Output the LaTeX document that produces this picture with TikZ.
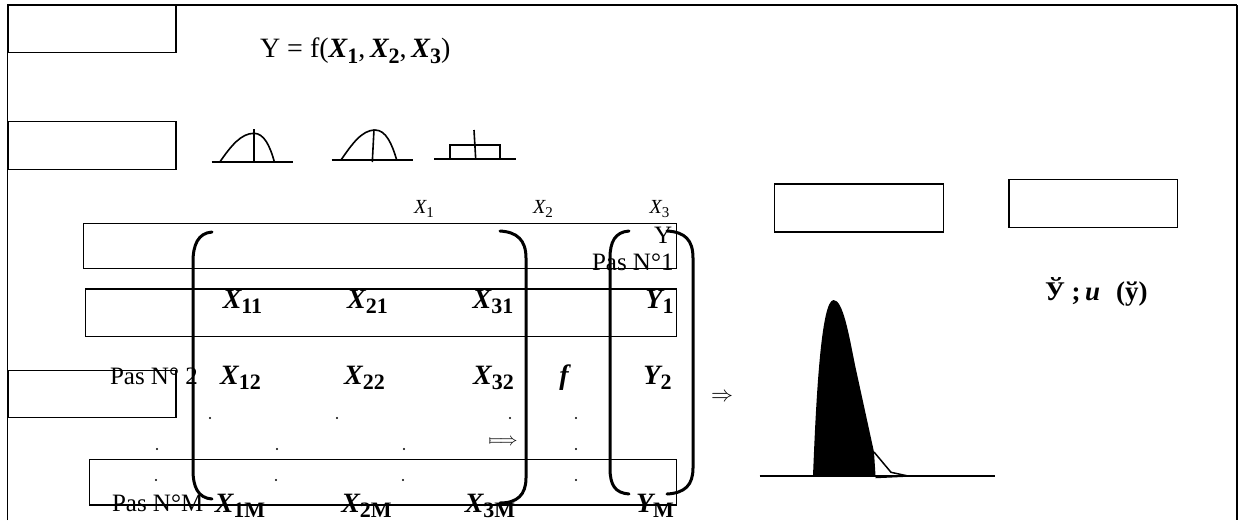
\documentclass[tikz,border=0pt]{standalone}
\usepackage{graphicx}
\usepackage{fontspec}
\setmainfont{Liberation Serif}
\newcommand\ent[2]{{\fontsize{28}{28}\selectfont\bfseries\itshape #1}\raisebox{-5pt}{\fontsize{22}{22}\selectfont\bfseries #2}}
\newcommand\hd[2]{{\fontsize{20}{20}\selectfont\itshape #1}\raisebox{-4pt}{\fontsize{15}{15}\selectfont #2}}
\newcommand\fx[1]{{\bfseries\itshape X}\raisebox{-6pt}{\fontsize{22}{22}\selectfont\bfseries #1}}
\begin{document}
\begin{tikzpicture}[x=1pt,y=-1pt,
  box/.style={draw, line width=1.3pt, inner sep=0pt, rectangle},
  txt/.style={inner sep=0pt, outer sep=0pt},
  paren/.style={line width=3pt, line cap=round},
  dot/.style={circle, fill, inner sep=0pt, minimum size=2.2pt},
  bell/.style={line width=1.6pt},
  pas/.style={txt, anchor=base west, font=\fontsize{25}{25}\selectfont},
  entry/.style={txt, anchor=base}]
\useasboundingbox (0,0) rectangle (1240,520);
% outer frame
\draw[line width=1.6pt] (7.3,520) -- (7.3,5) -- (1237,5);
\draw[line width=2.4pt] (1237,5) -- (1237,520);
% boxes
\node[box, minimum width=168pt, minimum height=47.7pt] (boxA) at (92,28.85) {};
\node[box, minimum width=168pt, minimum height=47.6pt] (boxB) at (92,145.5) {};
\node[box, minimum width=593.4pt, minimum height=45.4pt] (boxC) at (380,246) {};
\node[box, minimum width=591pt, minimum height=47.7pt] (boxD) at (381.2,312.85) {};
\node[box, minimum width=168pt, minimum height=47pt] (boxE) at (92,394.2) {};
\node[box, minimum width=587.4pt, minimum height=45.7pt] (boxF) at (383,482.15) {};
\node[box, minimum width=169.1pt, minimum height=48pt] (boxG) at (859.25,208) {};
\node[box, minimum width=168.7pt, minimum height=48pt] (boxH) at (1093.25,203.3) {};
% formula
\node[txt, anchor=base west, font=\fontsize{28}{28}\selectfont] (formula) at (260,57.3) {Y = f(\fx{1},\,\fx{2},\,\fx{3})};
% bell curves
\draw[bell] (211.7,161.7) -- (293.3,161.7);
\draw[bell] (220,161.7) .. controls (231,146) and (241,133.3) .. (254,133.3) .. controls (264,133.3) and (270,146) .. (274.3,161.7);
\draw[bell] (254,129) -- (254,161.7);
\draw[bell] (331.7,160) -- (413.3,160);
\draw[bell] (341,160) .. controls (352,144) and (362,130) .. (375,130) .. controls (386,130) and (392,144) .. (396.7,160);
\draw[bell] (374,129.5) -- (372.3,162);
\draw[bell] (434,159) -- (516,159);
\draw[bell] (450,145) rectangle (500,159);
\draw[bell] (474,130) -- (475.7,159);
% column headers
\node[entry] (h1) at (424,213) {\hd{X}{1}};
\node[entry] (h2) at (543,213) {\hd{X}{2}};
\node[entry] (h3) at (659.5,213) {\hd{X}{3}};
% labels
\node[pas] (yhead) at (654,243.3) {Y};
\node[pas] (pas1) at (592,270.5) {Pas N°1};
\node[pas] (pas2) at (110,384) {Pas N° 2};
\node[pas] (pasM) at (112,511.7) {Pas N°M};
% entries
\node[entry] (x11) at (242.5,308) {\ent{X}{11}};
\node[entry] (x21) at (367.5,308) {\ent{X}{21}};
\node[entry] (x31) at (493,308) {\ent{X}{31}};
\node[entry] (y1) at (659.5,308) {\ent{Y}{1}};
\node[entry] (x12) at (240.5,384.5) {\ent{X}{12}};
\node[entry] (x22) at (364.5,384.5) {\ent{X}{22}};
\node[entry] (x32) at (493.5,384.5) {\ent{X}{32}};
\node[entry] (fn) at (564,384.5) {{\fontsize{28}{28}\selectfont\bfseries\itshape f}};
\node[entry] (y2) at (657.5,384.5) {\ent{Y}{2}};
\node[entry] (x1m) at (240,512) {\ent{X}{1M}};
\node[entry] (x2m) at (366.5,512) {\ent{X}{2M}};
\node[entry] (x3m) at (490,512) {\ent{X}{3M}};
\node[entry] (ym) at (655,512) {\ent{Y}{M}};
% dots
\node[dot] (d11) at (210,418) {};
\node[dot] (d12) at (337,418) {};
\node[dot] (d13) at (510,418) {};
\node[dot] (d14) at (576,418) {};
\node[dot] (d21) at (157,449) {};
\node[dot] (d22) at (277,449) {};
\node[dot] (d23) at (404,449) {};
\node[dot] (d24) at (576,449) {};
\node[dot] (d31) at (156,480) {};
\node[dot] (d32) at (276,480) {};
\node[dot] (d33) at (403,480) {};
\node[dot] (d34) at (576,480) {};
% arrows
\node[txt] (mapsarrow) at (503,442) {\scalebox{1.8}{$\mapstochar\Longrightarrow$}};
\node[txt] (impl) at (722,397) {\scalebox{2.2}{$\Rightarrow$}};
% parentheses
\draw[paren] (212,232) .. controls (198,233) and (193,245) .. (193,262) -- (193,470) .. controls (193,487) and (198,498) .. (212,499);
\draw[paren] (500,231) .. controls (517,232) and (526,240) .. (526,258) -- (526,478) .. controls (526,495) and (517,503) .. (500,503);
\draw[paren] (629,231) .. controls (615,232) and (610,242) .. (610,258) -- (610,468) .. controls (610,485) and (615,493) .. (629,494);
\draw[paren] (667,231) .. controls (685,232) and (693,240) .. (693,258) -- (693,468) .. controls (693,485) and (685,493) .. (667,494);
% distribution
\fill (813,476) .. controls (816,400) and (821,300) .. (833.6,300) .. controls (843,300) and (849,335) .. (855,365) -- (874,452) -- (875.6,477) -- cycle;
\draw[line width=1.5pt] (874,452) -- (891,472.3) -- (908,476);
\draw[line width=1.5pt] (875.6,477.5) -- (908,476);
\draw[line width=1.8pt] (759.6,476) -- (995,476);
% result text
\node[txt, anchor=base west, font=\fontsize{27}{27}\selectfont\bfseries] (result) at (1045,300) {Ў ;\,\textit{u}\hspace{16pt}(ў)};
\end{tikzpicture}
\end{document}
